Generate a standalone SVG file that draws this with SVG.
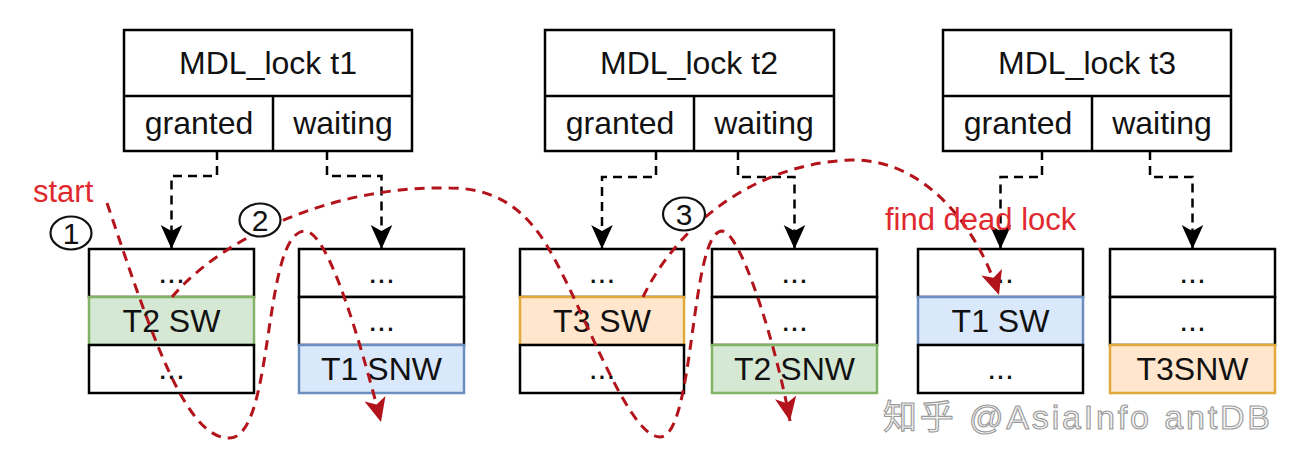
<svg xmlns="http://www.w3.org/2000/svg" width="1302" height="468" viewBox="0 0 1302 468">
<style>
.box{fill:#fff;stroke:#000;stroke-width:2.5}
.ln{stroke:#000;stroke-width:2.5;fill:none}
.t{font-family:"Liberation Sans",Arial,sans-serif;font-size:32px;fill:#111;text-anchor:middle}
.green{fill:#d5e8d4;stroke:#82b366;stroke-width:2.5}
.blue{fill:#dae8fc;stroke:#6c8ebf;stroke-width:2.5}
.orange{fill:#ffe6cc;stroke:#e0a93a;stroke-width:2.5}
.conn{fill:none;stroke:#000;stroke-width:2.5;stroke-dasharray:9 6;marker-end:url(#ab)}
.red{fill:none;stroke:#b3141b;stroke-width:3;stroke-dasharray:10 7;marker-end:url(#ar)}
.lbl{font-family:"Liberation Sans",Arial,sans-serif;font-size:31px;fill:#e0292e}
.circ{fill:#fff;stroke:#111;stroke-width:2.2}
.num{font-family:"Liberation Sans",Arial,sans-serif;font-size:30px;fill:#111;text-anchor:middle}
.wm{font-family:"Liberation Sans","Noto Sans CJK SC",sans-serif;font-size:34px;fill:#f2f2f2;stroke:#9a9a9a;stroke-width:1.1}
</style>
<defs>
<marker id="ab" markerUnits="userSpaceOnUse" markerWidth="24" markerHeight="24" viewBox="0 0 20 18" refX="20" refY="9" orient="auto">
<path d="M0,0 L20,9 L0,18 L5,9 Z" fill="#000"/>
</marker>
<marker id="ar" markerUnits="userSpaceOnUse" markerWidth="24" markerHeight="24" viewBox="0 0 20 18" refX="20" refY="9" orient="auto">
<path d="M0,0 L20,9 L0,18 L5,9 Z" fill="#b3141b"/>
</marker>
</defs>

<g id="lock-t1">
<rect class="box" x="124" y="30" width="288" height="121"/>
<line class="ln" x1="124" y1="96" x2="412" y2="96"/>
<line class="ln" x1="273" y1="96" x2="273" y2="151"/>
<text class="t" x="268" y="74">MDL_lock t1</text>
<text class="t" x="199" y="134">granted</text>
<text class="t" x="343" y="134">waiting</text>
</g>
<g id="lock-t2">
<rect class="box" x="545" y="30" width="289" height="121"/>
<line class="ln" x1="545" y1="96" x2="834" y2="96"/>
<line class="ln" x1="694" y1="96" x2="694" y2="151"/>
<text class="t" x="689" y="74">MDL_lock t2</text>
<text class="t" x="620" y="134">granted</text>
<text class="t" x="764" y="134">waiting</text>
</g>
<g id="lock-t3">
<rect class="box" x="943" y="30" width="288" height="121"/>
<line class="ln" x1="943" y1="96" x2="1231" y2="96"/>
<line class="ln" x1="1092" y1="96" x2="1092" y2="151"/>
<text class="t" x="1087" y="74">MDL_lock t3</text>
<text class="t" x="1018" y="134">granted</text>
<text class="t" x="1162" y="134">waiting</text>
</g>

<g id="queue-t1-granted">
<rect class="box" x="89" y="249" width="165" height="48"/>
<rect class="green" x="89" y="297" width="165" height="48"/>
<rect class="box" x="89" y="345" width="165" height="48"/>
<text class="t" x="171.5" y="283">...</text>
<text class="t" x="171.5" y="332">T2 SW</text>
<text class="t" x="171.5" y="379">...</text>
</g>
<g id="queue-t1-waiting">
<rect class="box" x="299" y="249" width="165" height="48"/>
<rect class="box" x="299" y="297" width="165" height="48"/>
<rect class="blue" x="299" y="345" width="165" height="48"/>
<text class="t" x="381.5" y="283">...</text>
<text class="t" x="381.5" y="331">...</text>
<text class="t" x="381.5" y="380">T1 SNW</text>
</g>
<g id="queue-t2-granted">
<rect class="box" x="520" y="249" width="164" height="48"/>
<rect class="orange" x="520" y="297" width="164" height="48"/>
<rect class="box" x="520" y="345" width="164" height="48"/>
<text class="t" x="602" y="283">...</text>
<text class="t" x="602" y="332">T3 SW</text>
<text class="t" x="602" y="379">...</text>
</g>
<g id="queue-t2-waiting">
<rect class="box" x="712" y="249" width="165" height="48"/>
<rect class="box" x="712" y="297" width="165" height="48"/>
<rect class="green" x="712" y="345" width="165" height="48"/>
<text class="t" x="794.5" y="283">...</text>
<text class="t" x="794.5" y="331">...</text>
<text class="t" x="794.5" y="380">T2 SNW</text>
</g>
<g id="queue-t3-granted">
<rect class="box" x="918" y="249" width="165" height="48"/>
<rect class="blue" x="918" y="297" width="165" height="48"/>
<rect class="box" x="918" y="345" width="165" height="48"/>
<text class="t" x="1000.5" y="283">...</text>
<text class="t" x="1000.5" y="332">T1 SW</text>
<text class="t" x="1000.5" y="379">...</text>
</g>
<g id="queue-t3-waiting">
<rect class="box" x="1110" y="249" width="165" height="48"/>
<rect class="box" x="1110" y="297" width="165" height="48"/>
<rect class="orange" x="1110" y="345" width="165" height="48"/>
<text class="t" x="1192.5" y="283">...</text>
<text class="t" x="1192.5" y="331">...</text>
<text class="t" x="1192.5" y="380">T3SNW</text>
</g>

<g id="connectors">
<path class="conn" d="M217,151 V176 H171.5 V249"/>
<path class="conn" d="M327,151 V176 H381.5 V249"/>
<path class="conn" d="M656,151 V177 H602 V249"/>
<path class="conn" d="M738,151 V177 H794.5 V249"/>
<path class="conn" d="M1042,151 V177 H1000.5 V249"/>
<path class="conn" d="M1150,151 V177 H1192.5 V249"/>
<path class="red" d="M107,203 C150,330 185,440 230,438 C275,436 262,232 305,231 C330,231 365,360 381,422"/>
<path class="red" d="M172,297 C220,240 330,185 450,188 C485,188 515,200 540,235 C577,287 625,437 660,437 C695,437 690,232 722,231 C740,231 775,340 790,421"/>
<path class="red" d="M643,297 C670,240 740,165 850,160 C920,158 975,220 999,295"/>
</g>

<g id="label-start"><text class="lbl" x="33" y="202">start</text></g>
<g id="label-find"><text class="lbl" x="885" y="230">find dead lock</text></g>
<g id="step-1">
<ellipse class="circ" cx="71" cy="233" rx="20.5" ry="16.5"/>
<text class="num" x="71" y="244">1</text>
</g>
<g id="step-2">
<ellipse class="circ" cx="260" cy="220" rx="20.5" ry="16.5"/>
<text class="num" x="260" y="231">2</text>
</g>
<g id="step-3">
<ellipse class="circ" cx="684" cy="214" rx="21" ry="16.5"/>
<text class="num" x="684" y="225">3</text>
</g>

<g id="watermark">
<text class="wm" x="883" y="429" textLength="387" lengthAdjust="spacing">知乎 @AsiaInfo antDB</text>
</g>
</svg>
